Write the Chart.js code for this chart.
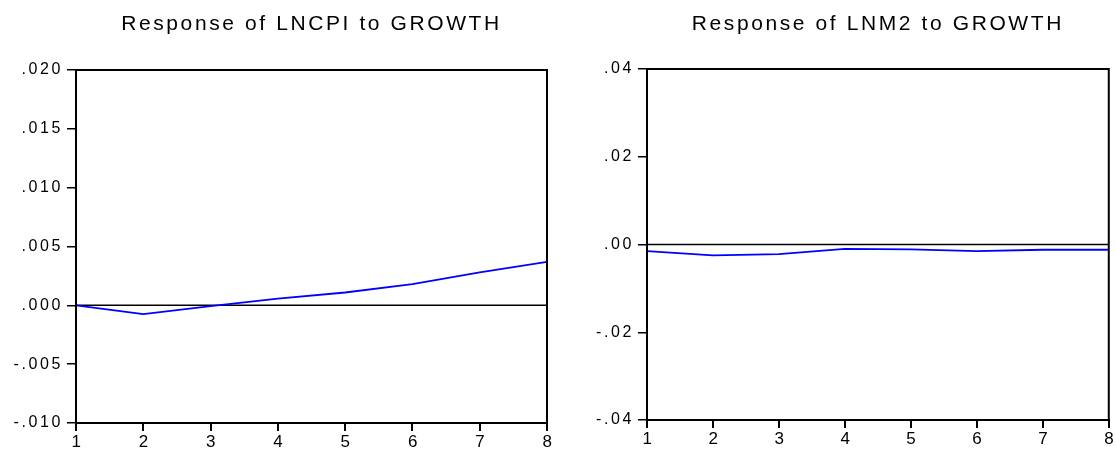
<!DOCTYPE html>
<html>
<head>
<meta charset="utf-8">
<script src="https://cdn.jsdelivr.net/npm/chart.js@4/dist/chart.umd.min.js"></script>
<style>
  html, body { margin: 0; padding: 0; background: #ffffff; }
  #wrap { position: relative; width: 1116px; height: 452px; overflow: hidden; }
  .panel { position: absolute; top: 0; width: 558px; height: 452px; }
  #p1 { left: 0; }
  #p2 { left: 558px; }
</style>
</head>
<body>
<div id="wrap">
  <div class="panel" id="p1"><canvas id="c1" width="558" height="452"></canvas></div>
  <div class="panel" id="p2"><canvas id="c2" width="558" height="452"></canvas></div>
</div>
<script>
// Impulse-response periods
const periods = [1, 2, 3, 4, 5, 6, 7, 8];

// Response of LNCPI to a GROWTH shock
const lncpiResponse = [0.0000, -0.00074, -0.00006, 0.00057, 0.00109, 0.0018, 0.0028, 0.0037];
// Response of LNM2 to a GROWTH shock
const lnm2Response = [-0.0015, -0.0025, -0.0022, -0.0010, -0.0011, -0.0015, -0.0012, -0.0012];

// Vertical tick values for each panel
const lncpiTicks = [-0.010, -0.005, 0.000, 0.005, 0.010, 0.015, 0.020];
const lnm2Ticks = [-0.04, -0.02, 0.00, 0.02, 0.04];

const panelTitles = ['Response of LNCPI to GROWTH', 'Response of LNM2 to GROWTH'];

const FONT = '"Liberation Sans", Arial, Helvetica, sans-serif';
const TITLE_SPACING = '2.6px';
const TICK_SPACING = '3px';

// EViews-style labels: drop the leading zero (".020", "-.005")
function fmt(v, decimals) {
  let s = Math.abs(v).toFixed(decimals).replace(/^0/, '');
  return (v < 0 && Math.abs(v) > 1e-12 ? '-' : '') + s;
}

// Wide tracking on all text; the title gets its own spacing.
// Scales sit on a later layer (z: 1), so they are drawn after the datasets.
const letterSpacing = {
  id: 'letterSpacing',
  beforeLayout(chart) { chart.ctx.letterSpacing = TICK_SPACING; },
  beforeDraw(chart) { chart.ctx.letterSpacing = TITLE_SPACING; },
  beforeDatasetsDraw(chart) { chart.ctx.letterSpacing = TICK_SPACING; }
};

// Closed frame round the plot area plus the zero reference line
const frame = {
  id: 'frame',
  beforeDatasetsDraw(chart) {
    const { ctx, chartArea: a, scales } = chart;
    const y0 = scales.y.getPixelForValue(0);
    ctx.save();
    ctx.strokeStyle = '#000';
    ctx.lineWidth = 1.5;
    ctx.beginPath();
    ctx.moveTo(a.left, y0);
    ctx.lineTo(a.right, y0);
    ctx.stroke();
    ctx.restore();
  },
  afterDatasetsDraw(chart) {
    const { ctx, chartArea: a } = chart;
    ctx.save();
    ctx.strokeStyle = '#000';
    ctx.lineWidth = 2;
    ctx.strokeRect(a.left, a.top, a.right - a.left, a.bottom - a.top);
    ctx.restore();
  }
};

function makePanel(canvasId, values, yTicks, decimals, title, yWidth, xHeight, padRight, titleBottom) {
  return new Chart(document.getElementById(canvasId), {
    type: 'line',
    data: {
      datasets: [{
        data: periods.map((p, i) => ({ x: p, y: values[i] })),
        borderColor: '#0000ff',
        borderWidth: 1.8,
        pointRadius: 0,
        tension: 0,
        fill: false
      }]
    },
    options: {
      responsive: false,
      animation: false,
      devicePixelRatio: 1,
      layout: { padding: { left: 0, right: padRight, top: 0, bottom: 0 } },
      plugins: {
        legend: { display: false },
        tooltip: { enabled: false },
        title: {
          display: true,
          text: title,
          fullSize: false,
          color: '#000',
          font: { family: FONT, size: 21, weight: 'normal', lineHeight: 1.2 },
          padding: { top: 12, bottom: titleBottom }
        }
      },
      scales: {
        x: {
          type: 'linear',
          z: 1,
          min: periods[0],
          max: periods[periods.length - 1],
          afterBuildTicks(scale) { scale.ticks = periods.map(v => ({ value: v })); },
          afterFit(scale) { scale.height = xHeight; },
          border: { display: true, color: '#000', width: 2 },
          grid: { drawOnChartArea: false, drawTicks: true, tickLength: 8, color: '#000', lineWidth: 2 },
          ticks: {
            color: '#000',
            padding: 1,
            labelOffset: 1.5,
            maxRotation: 0,
            autoSkip: false,
            font: { family: FONT, size: 17 },
            callback: v => String(v)
          }
        },
        y: {
          type: 'linear',
          z: 1,
          min: yTicks[0],
          max: yTicks[yTicks.length - 1],
          afterBuildTicks(scale) { scale.ticks = yTicks.map(v => ({ value: v })); },
          afterFit(scale) { scale.width = yWidth; },
          border: { display: true, color: '#000', width: 2 },
          grid: { drawOnChartArea: false, drawTicks: true, tickLength: 9, color: '#000', lineWidth: 1.5 },
          ticks: {
            color: '#000',
            padding: 4,
            autoSkip: false,
            font: { family: FONT, size: 16 },
            callback: v => fmt(v, decimals)
          }
        }
      }
    },
    plugins: [letterSpacing, frame]
  });
}

makePanel('c1', lncpiResponse, lncpiTicks, 3, panelTitles[0], 76, 29, 11, 32.8);
makePanel('c2', lnm2Response, lnm2Ticks, 2, panelTitles[1], 89, 32, 4, 31.8);
</script>
</body>
</html>
